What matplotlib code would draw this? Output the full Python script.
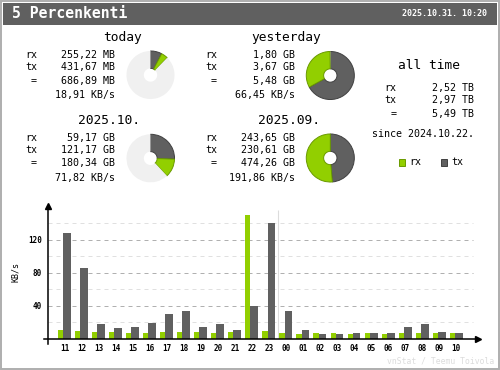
import matplotlib
matplotlib.use('Agg')
import matplotlib.pyplot as plt
from matplotlib.patches import Rectangle

plt.rcParams['font.family'] = ['DejaVu Sans Mono']

# ---- data ----
title = "5 Percenkenti"
stamp = "2025.10.31. 10:20"

today_rx, today_tx, today_tot, today_rate = 255.22, 431.67, 686.89, 18.91          # MB
yest_rx, yest_tx, yest_tot, yest_rate = 1.80, 3.67, 5.48, 66.45                    # GB
month_rx, month_tx, month_tot, month_rate = 59.17, 121.17, 180.34, 71.82           # GB
prev_rx, prev_tx, prev_tot, prev_rate = 243.65, 230.61, 474.26, 191.86             # GB
all_rx, all_tx, all_tot = 2.52, 2.97, 5.49                                         # TB
since = "2024.10.22."

hours = ["11", "12", "13", "14", "15", "16", "17", "18", "19", "20", "21", "22",
         "23", "00", "01", "02", "03", "04", "05", "06", "07", "08", "09", "10"]
hour_rx = [11.3, 10, 9, 9, 7.7, 7.7, 9, 9, 9, 7.7, 9, 150.7,
           10, 7.7, 6.5, 7.7, 7.7, 6.5, 7.7, 6.5, 7.7, 7.7, 7.7, 7.7]
hour_tx = [128, 86.5, 18.6, 13, 15, 19.8, 30.7, 34.3, 15, 18.6, 11.3, 39.6,
           141, 34.3, 11.3, 6.5, 6.5, 7.7, 7.7, 7.7, 15, 18.6, 9, 7.7]

C_RX = '#92cf00'
C_TX = '#606060'
C_RX_EDGE = '#6a9a00'
C_TX_EDGE = '#404040'
C_FREE = '#f0f0f0'

W, H = 500, 370
fig = plt.figure(figsize=(5, 3.7), dpi=100)
fig.patch.set_facecolor('white')

bg = fig.add_axes([0, 0, 1, 1])
bg.set_xlim(0, W)
bg.set_ylim(H, 0)
bg.axis('off')

# border + header
bg.add_patch(Rectangle((0.75, 0.75), W - 1.5, H - 1.5, fill=False, ec='#aeaeae', lw=1.4))
bg.add_patch(Rectangle((3, 3), W - 6, 21.5, fc=C_TX, ec='none'))
bg.text(12, 14, title, color='white', fontsize=10.6, fontweight='bold', va='center', ha='left')
bg.text(487, 14, stamp, color='white', fontsize=6, fontweight='bold', va='center', ha='right')


def fmt(v):
    return ("%.2f" % v).replace('.', ',')


def block(x0, y0, head, hx, rx, tx, tot, unit, rate):
    bg.text(hx, y0 - 17.5, head, fontsize=9.3, ha='center', va='center')
    rows = [("rx", fmt(rx) + " " + unit), ("tx", fmt(tx) + " " + unit), ("=", fmt(tot) + " " + unit)]
    ys = [y0, y0 + 12, y0 + 25.7]
    for (lab, val), y in zip(rows, ys):
        if lab == "=":
            bg.text(x0 + 9, y, lab, fontsize=7.2, ha='center', va='center')
        else:
            bg.text(x0, y, lab, fontsize=7.2, ha='left', va='center')
        bg.text(x0 + 90, y, val, fontsize=7.2, ha='right', va='center')
    bg.text(x0 + 90, y0 + 40.3, fmt(rate) + " KB/s", fontsize=7.2, ha='right', va='center')


def donut(cx, cy, tx, rx, full):
    r = 24.5
    pax = fig.add_axes([(cx - r) / W, 1 - (cy + r) / H, 2 * r / W, 2 * r / H])
    rest = max(full - tx - rx, 0)
    wedges, _ = pax.pie([tx, rx, rest], colors=[C_TX, C_RX, C_FREE], startangle=90,
                        counterclock=False, radius=1,
                        wedgeprops=dict(width=1 - 6.8 / r, linewidth=0.7))
    wedges[0].set_edgecolor(C_TX_EDGE)
    wedges[1].set_edgecolor(C_RX_EDGE)
    wedges[2].set_edgecolor('none')
    pax.set_xlim(-1.02, 1.02)
    pax.set_ylim(-1.02, 1.02)
    pax.axis('off')


block(25, 55, "today", 122, today_rx, today_tx, today_tot, "MB", today_rate)
block(205, 55, "yesterday", 286, yest_rx, yest_tx, yest_tot, "GB", yest_rate)
block(25, 137.7, "2025.10.", 109, month_rx, month_tx, month_tot, "GB", month_rate)
block(205, 137.7, "2025.09.", 289, prev_rx, prev_tx, prev_tot, "GB", prev_rate)

donut(150.5, 75, today_tx, today_rx, yest_tot * 1024)
donut(330.3, 75.5, yest_tx, yest_rx, yest_tot)
donut(150.5, 158.3, month_tx, month_rx, prev_tot)
donut(330.3, 158, prev_tx, prev_rx, prev_tot)

# all time
bg.text(428.8, 65.7, "all time", fontsize=9.3, ha='center', va='center')
for lab, v, y in [("rx", all_rx, 88.3), ("tx", all_tx, 100), ("=", all_tot, 114)]:
    if lab == "=":
        bg.text(393.3, y, lab, fontsize=7.2, ha='center', va='center')
    else:
        bg.text(384.3, y, lab, fontsize=7.2, ha='left', va='center')
    bg.text(474, y, fmt(v) + " TB", fontsize=7.2, ha='right', va='center')
bg.text(423.3, 134.3, "since " + since, fontsize=7.2, ha='center', va='center')

bg.add_patch(Rectangle((398.5, 159), 6.5, 6.5, fc=C_RX, ec=C_RX_EDGE, lw=0.7))
bg.text(409, 162.3, "rx", fontsize=7.2, ha='left', va='center')
bg.add_patch(Rectangle((440.5, 159), 6.5, 6.5, fc=C_TX, ec=C_TX_EDGE, lw=0.7))
bg.text(451, 162.3, "tx", fontsize=7.2, ha='left', va='center')

bg.text(494, 361, "vnStat / Teemu Toivola", fontsize=5.9, color='#dcdcdc', ha='right', va='center')

# ---- hourly bars ----
ax = fig.add_axes([48 / W, (H - 339) / H, 430 / W, 133 / H])
ax.set_xlim(-0.98, 24.27)
ax.set_ylim(0, 161.2)
ax.patch.set_alpha(0)
for s in ax.spines.values():
    s.set_visible(False)

x = list(range(len(hours)))
ax.hlines([20, 60, 100, 140], -0.98, 23.97, colors='#e0e0e0', lw=0.72,
          linestyles=(0, (4, 4)), zorder=1)
ax.hlines([40, 80, 120], -0.98, 23.97, colors='#b0b0b0', lw=0.72,
          linestyles=(0, (4, 4)), zorder=1)
ax.vlines(12.5, 0, 156, colors='#dcdcdc', lw=0.8, zorder=1)

ax.bar([i - 0.39 for i in x], hour_rx, width=0.30, align='edge', color=C_RX, zorder=2)
ax.bar([i - 0.09 for i in x], hour_tx, width=0.46, align='edge', color=C_TX, zorder=2)

ax.set_xticks(x)
ax.set_xticklabels(hours, fontsize=5.5, fontweight='bold')
ax.set_yticks([40, 80, 120])
ax.set_yticklabels(["40", "80", "120"], fontsize=5.5, fontweight='bold')
ax.tick_params(length=0)
ax.tick_params(axis='x', pad=3.6)
ax.tick_params(axis='y', pad=4.3)
ax.set_ylabel("KB/s", fontsize=6, labelpad=6)

# axis lines with arrows
ax.plot([-0.0093, 1], [0, 0], color='black', lw=1.1, transform=ax.transAxes, clip_on=False, zorder=3)
ax.plot([0, 0], [-0.0376, 1], color='black', lw=1.1, transform=ax.transAxes, clip_on=False, zorder=3)
ax.plot([1], [0], marker='>', color='black', ms=4, transform=ax.transAxes, clip_on=False, zorder=3)
ax.plot([0], [1], marker='^', color='black', ms=4, transform=ax.transAxes, clip_on=False, zorder=3)

fig.savefig('out.png', dpi=100)
